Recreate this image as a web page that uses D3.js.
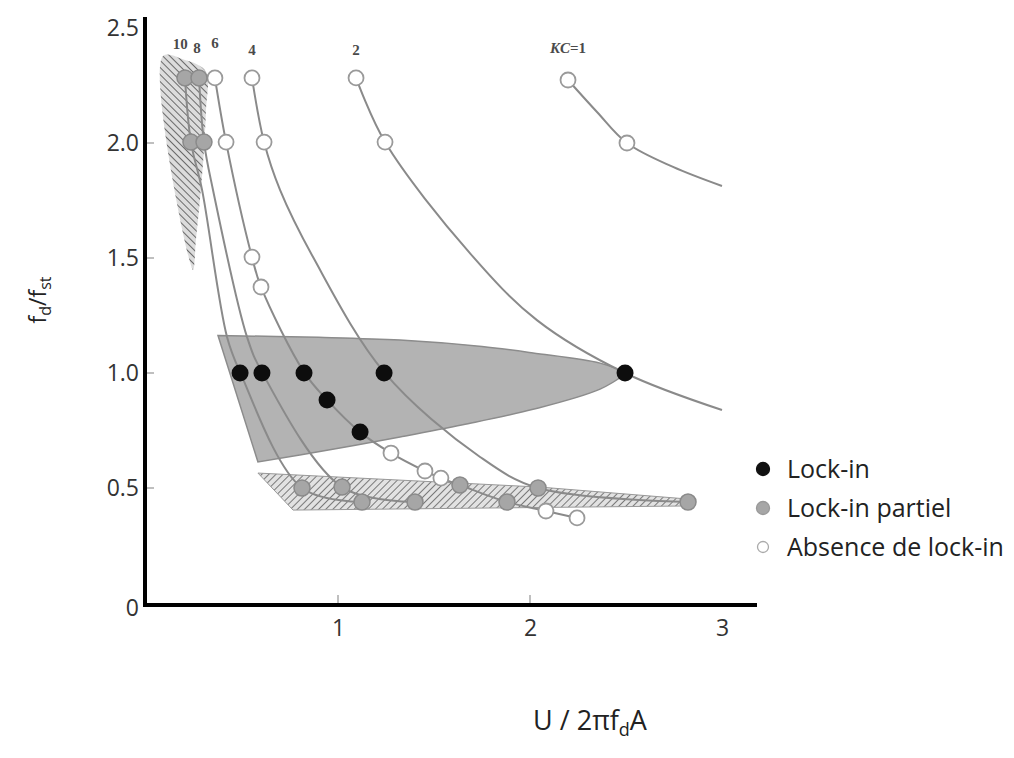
<!DOCTYPE html>
<html><head><meta charset="utf-8">
<script src="https://cdn.jsdelivr.net/npm/d3@7"></script>
<style>
html,body{margin:0;padding:0;background:#fff;}
svg{display:block;}
</style>
</head><body>
<svg id="chart" width="1014" height="758"></svg>
<script>
// ---------- data ----------
const yTicks = [0, 0.5, 1.0, 1.5, 2.0, 2.5];
const yTickLabels = ["0", "0.5", "1.0", "1.5", "2.0", "2.5"];
const xTicks = [1, 2, 3];
const xTickLabels = ["1", "2", "3"];
const kcLabels = ["10", "8", "6", "4", "2", "KC=1"];

// curve points [x, y] for each KC
const curveKC1 = [[2.198,2.274],[2.349,2.135],[2.505,2.0],[2.745,1.896],[3.0,1.813]];
const curveKC2 = [[1.094,2.283],[1.245,2.004],[1.688,1.52],[2.036,1.23],[2.495,1.0],[3.0,0.839]];
const curveKC4 = [[0.552,2.283],[0.615,2.004],[0.698,1.796],[0.87,1.504],[1.24,1.004],[1.74,0.635],[2.042,0.5],[2.823,0.439]];
const curveKC6 = [[0.359,2.283],[0.417,2.004],[0.552,1.504],[0.599,1.374],[0.823,1.004],[0.943,0.883],[1.115,0.743],[1.276,0.652],[1.453,0.574],[1.536,0.543],[1.635,0.513],[1.88,0.439],[2.083,0.4],[2.245,0.37]];
const curveKC8 = [[0.276,2.283],[0.302,2.004],[0.349,1.796],[0.526,1.157],[0.604,1.004],[1.021,0.504],[1.401,0.439]];
const curveKC10 = [[0.203,2.283],[0.234,2.004],[0.292,1.796],[0.422,1.157],[0.49,1.004],[0.8125,0.5],[1.125,0.439]];

// markers
const lockIn = [[0.49,1.0],[0.604,1.0],[0.823,1.0],[0.943,0.883],[1.115,0.743],[1.24,1.0],[2.495,1.0]];
const partial = [[0.203,2.283],[0.276,2.283],[0.234,2.004],[0.302,2.004],[0.8125,0.5],[1.021,0.504],[1.125,0.439],[1.401,0.439],[1.635,0.513],[1.88,0.439],[2.042,0.5],[2.823,0.439]];
const noLock = [[0.359,2.283],[0.552,2.283],[1.094,2.283],[2.198,2.274],[0.417,2.004],[0.615,2.004],[1.245,2.004],[2.505,2.0],[0.552,1.504],[0.599,1.374],[1.276,0.652],[1.453,0.574],[1.536,0.543],[2.083,0.4],[2.245,0.37]];

// regions
const lockRegionTop = [[0.375,1.163],[0.9,1.155],[1.323,1.143],[1.75,1.115],[2.016,1.087],[2.365,1.043],[2.505,1.0]];
const lockRegionBottom = [[2.505,1.0],[2.365,0.93],[2.016,0.842],[1.65,0.775],[1.323,0.722],[0.95,0.665],[0.583,0.613]];
const partialBand = [[0.583,0.565],[2.052,0.504],[2.823,0.452],[2.859,0.439],[2.823,0.422],[0.766,0.404]];
const partialWedge = [[0.0885,2.378],[0.203,2.361],[0.281,2.335],[0.318,2.3],[0.3125,2.143],[0.302,1.97],[0.281,1.752],[0.26,1.578],[0.245,1.448]];

const legendItems = ["Lock-in", "Lock-in partiel", "Absence de lock-in"];

// ---------- drawing ----------
const svg = d3.select("#chart");
const x = d3.scaleLinear().domain([0, 3]).range([146, 722]);
const y = d3.scaleLinear().domain([0, 2.5]).range([603, 28]);

const defs = svg.append("defs");
const p1 = defs.append("pattern").attr("id","hatchA").attr("patternUnits","userSpaceOnUse")
  .attr("width",5).attr("height",5).attr("patternTransform","rotate(45)");
p1.append("rect").attr("width",5).attr("height",5).attr("fill","#e2e2e2");
p1.append("line").attr("x1",0).attr("y1",0).attr("x2",0).attr("y2",5).attr("stroke","#5e5e5e").attr("stroke-width",1.6);
const p2 = defs.append("pattern").attr("id","hatchB").attr("patternUnits","userSpaceOnUse")
  .attr("width",5).attr("height",5).attr("patternTransform","rotate(-45)");
p2.append("rect").attr("width",5).attr("height",5).attr("fill","#dcdcdc");
p2.append("line").attr("x1",0).attr("y1",0).attr("x2",0).attr("y2",5).attr("stroke","#555").attr("stroke-width",1.7);

const open = d3.line().x(d=>x(d[0])).y(d=>y(d[1])).curve(d3.curveCatmullRom.alpha(0.5));
const area = d3.line().x(d=>x(d[0])).y(d=>y(d[1])).curve(d3.curveCatmullRomClosed.alpha(0.5));
const poly = d3.line().x(d=>x(d[0])).y(d=>y(d[1])).curve(d3.curveLinearClosed);

const lockPath = open(lockRegionTop) + open(lockRegionBottom).replace(/^M/, "L") + "Z";
svg.append("path").attr("d", lockPath).attr("fill","#b3b3b3").attr("stroke","#8c8c8c").attr("stroke-width",1.5);
svg.append("path").attr("d", poly(partialBand)).attr("fill","url(#hatchA)").attr("stroke","#999").attr("stroke-width",1);
svg.append("path").attr("d", area(partialWedge)).attr("fill","url(#hatchB)").attr("stroke","none");

const curves = [curveKC10, curveKC8, curveKC6, curveKC4, curveKC2, curveKC1];
svg.append("g").selectAll("path").data(curves).join("path")
  .attr("d", open).attr("fill","none").attr("stroke","#8a8a8a").attr("stroke-width",2);

// KC labels above top circles
const labelX = [curveKC10[0][0]-0.025, curveKC8[0][0]-0.01, curveKC6[0][0], curveKC4[0][0], curveKC2[0][0], curveKC1[0][0]+0.0];
const labelDy = [-29, -25, -30, -23, -23, -25];
svg.append("g").selectAll("text").data(kcLabels).join("text")
  .attr("x",(d,i)=>x(labelX[i])).attr("y",(d,i)=>y(2.283)+labelDy[i])
  .attr("text-anchor","middle").attr("font-family","Liberation Serif, serif").attr("font-size",15)
  .attr("font-weight","bold").attr("fill","#4a4a4a")
  .each(function(d){
    const t=d3.select(this);
    if(d.startsWith("KC")){ t.append("tspan").attr("font-style","italic").text("KC"); t.append("tspan").text("=1"); }
    else t.text(d);
  });

// markers
svg.append("g").selectAll("circle").data(noLock).join("circle")
  .attr("cx",d=>x(d[0])).attr("cy",d=>y(d[1])).attr("r",7.5)
  .attr("fill","#fff").attr("stroke","#9a9a9a").attr("stroke-width",1.8);
svg.append("g").selectAll("circle").data(partial).join("circle")
  .attr("cx",d=>x(d[0])).attr("cy",d=>y(d[1])).attr("r",8)
  .attr("fill","#a6a6a6").attr("stroke","#8a8a8a").attr("stroke-width",1.5);
svg.append("g").selectAll("circle").data(lockIn).join("circle")
  .attr("cx",d=>x(d[0])).attr("cy",d=>y(d[1])).attr("r",8.5)
  .attr("fill","#0d0d0d");

// axes
const yAxis = d3.axisLeft(y).tickValues(yTicks).tickFormat((d,i)=>yTickLabels[i]).tickSize(0).tickPadding(6);
const gy = svg.append("g").attr("transform","translate(145,0)").call(yAxis);
gy.select(".domain").remove();
gy.selectAll("text").attr("font-family","Open Sans, sans-serif").attr("font-size",23).attr("fill","#333");
gy.selectAll(".tick").filter(d=>d===0).select("text").attr("dy","0.55em");
const xAxis = d3.axisBottom(x).tickValues(xTicks).tickFormat((d,i)=>xTickLabels[i]).tickSize(0).tickPadding(15);
const gx = svg.append("g").attr("transform","translate(0,605)").call(xAxis);
gx.select(".domain").remove();
gx.selectAll("text").attr("font-family","Open Sans, sans-serif").attr("font-size",23).attr("fill","#333");

// small gray inner ticks
svg.append("g").selectAll("line").data(yTicks.filter(v=>v>0 && v<2.5)).join("line")
  .attr("x1",147).attr("x2",154).attr("y1",d=>y(d)).attr("y2",d=>y(d)).attr("stroke","#aaa").attr("stroke-width",1.5);
svg.append("g").selectAll("line").data(xTicks.filter(v=>v<3)).join("line")
  .attr("x1",d=>x(d)).attr("x2",d=>x(d)).attr("y1",595).attr("y2",603).attr("stroke","#aaa").attr("stroke-width",1.5);

// thick axis lines
svg.append("line").attr("x1",145).attr("x2",145).attr("y1",17).attr("y2",607).attr("stroke","#000").attr("stroke-width",4);
svg.append("line").attr("x1",143).attr("x2",757).attr("y1",605).attr("y2",605).attr("stroke","#000").attr("stroke-width",4);

// axis titles
const yt = svg.append("text").attr("transform","translate(46,300) rotate(-90)")
  .attr("text-anchor","middle").attr("font-family","Open Sans, sans-serif").attr("font-size",23).attr("fill","#222");
yt.append("tspan").text("f");
yt.append("tspan").attr("font-size",16).attr("dy",5).text("d");
yt.append("tspan").attr("dy",-5).text("/f");
yt.append("tspan").attr("font-size",16).attr("dy",5).text("st");

const xt = svg.append("text").attr("x",590).attr("y",730)
  .attr("text-anchor","middle").attr("font-family","Open Sans, sans-serif").attr("font-size",27).attr("fill","#222");
xt.append("tspan").text("U / 2πf");
xt.append("tspan").attr("font-size",18).attr("dy",6).text("d");
xt.append("tspan").attr("dy",-6).text("A");

// legend
const lg = svg.append("g").attr("transform","translate(763,469)");
const li = lg.selectAll("g").data(legendItems).join("g").attr("transform",(d,i)=>`translate(0,${i*39})`);
li.append("circle").attr("r",(d,i)=>i===2?5.5:6.5)
  .attr("fill",(d,i)=>["#111","#a6a6a6","#fff"][i])
  .attr("stroke",(d,i)=>["#111","#999","#aaa"][i]).attr("stroke-width",1.3);
li.append("text").attr("x",24).attr("dy","0.36em").attr("font-family","Open Sans, sans-serif")
  .attr("font-size",25).attr("fill","#222").text(d=>d);
</script>
</body></html>
